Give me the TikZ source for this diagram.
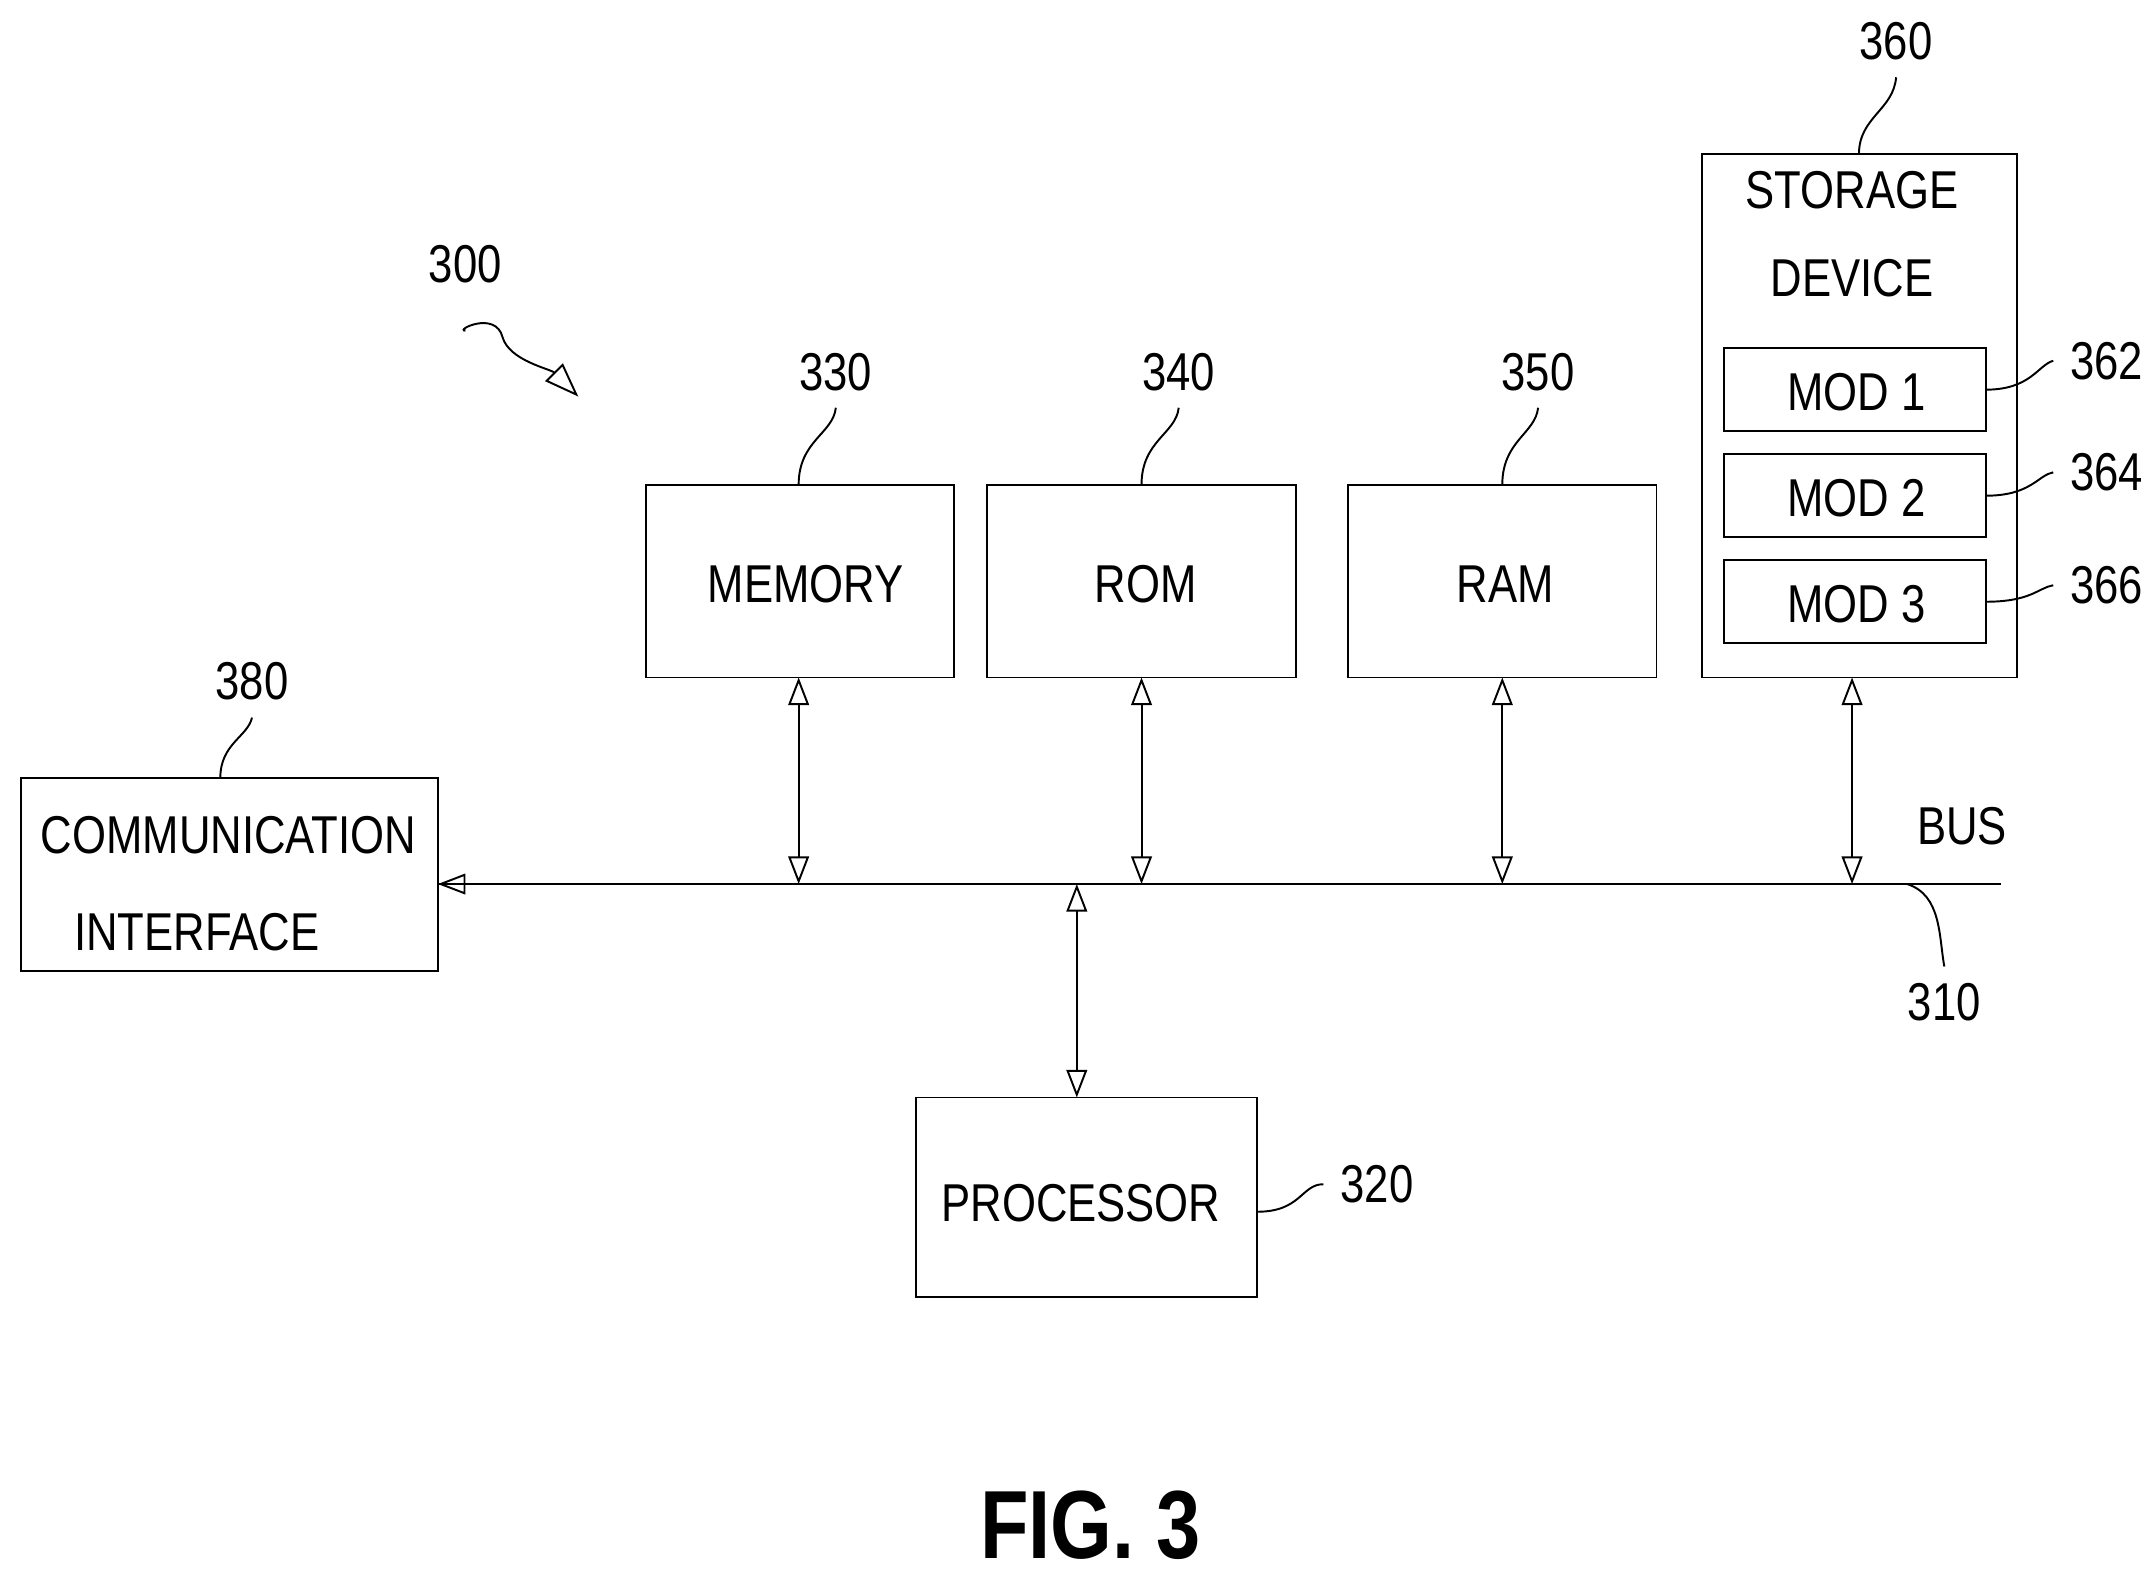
\documentclass[tikz,border=0pt]{standalone}
\usepackage{fontspec}
\setmainfont{Liberation Sans}[FakeStretch=0.82]
\usetikzlibrary{arrows.meta,positioning}
\begin{document}
\begin{tikzpicture}[x=0.01cm, y=-0.01cm,
    every node/.style={font=\fontsize{11}{14}\selectfont},
    opentip/.style={{Triangle[open, length=0.2cm, width=0.15cm]}-{Triangle[open, length=0.2cm, width=0.15cm]}},
    lead/.style={thin}]
    \useasboundingbox (0,0) rectangle (1565,1142);

    % Boxes
    \draw[thin] (469,352) rectangle (693,492);
    \node (mem) at (585,424) {MEMORY};
    \draw[thin] (717,352) rectangle (941,492);
    \node (rom) at (832,424) {ROM};
    \draw[thin] (979,352) rectangle (1203,492);
    \node (ram) at (1093,424) {RAM};
    \draw[thin] (1236,112) rectangle (1465,492);
    \node[align=center] (sto) at (1345,170) {STORAGE\\[4pt]DEVICE};
    \foreach \y/\n in {253/1, 330/2, 407/3} {
        \draw[thin] (1252,\y) rectangle (1442,\y+60);
        \node (mod\n) at (1348,\y+32) {MOD \n};
    }
    \draw[thin] (15,565) rectangle (318,705);
    \node[align=center] (com) at (166,642) {COMMUNICATION\\[6pt]\hspace*{-1.2em}INTERFACE};
    \draw[thin] (665,797) rectangle (913,942);
    \node (pro) at (785,874) {PROCESSOR};

    % Bus
    \coordinate (busL) at (318,642);
    \coordinate (busR) at (1453,642);
    \draw[thin] (busL) -- (busR);
    \node (bus) at (1425,600) {BUS};
    \draw[thin, -{Triangle[open, length=0.2cm, width=0.15cm]}] (540,642) -- (busL);

    % Bus connections
    \foreach \x/\t in {580/492, 829/492, 1091/492, 1345/492} {
        \draw[thin, opentip] (\x,\t) -- (\x,642);
    }
    \draw[thin, opentip] (782,642) -- (782,797);

    % Reference numerals
    \node (n300) at (338,192) {300};
    \node (n330) at (607,270) {330};
    \node (n340) at (856,270) {340};
    \node (n350) at (1117,270) {350};
    \node (n360) at (1377,30) {360};
    \node (n362) at (1530,262) {362};
    \node (n364) at (1530,343) {364};
    \node (n366) at (1530,425) {366};
    \node (n380) at (183,495) {380};
    \node (n320) at (1000,860) {320};
    \node (n310) at (1412,728) {310};

    % Leaders
    \draw[lead] (580,352) .. controls (580,320) and (605,315) .. (n330.south);
    \draw[lead] (829,352) .. controls (829,320) and (854,315) .. (n340.south);
    \draw[lead] (1091,352) .. controls (1091,320) and (1115,315) .. (n350.south);
    \draw[lead] (1350,112) .. controls (1350,85) and (1375,80) .. (n360.south);
    \draw[lead] (160,565) .. controls (160,540) and (180,535) .. (n380.south);
    \draw[lead] (1442,283) .. controls (1475,283) and (1480,265) .. (n362.west);
    \draw[lead] (1442,360) .. controls (1475,360) and (1480,345) .. (n364.west);
    \draw[lead] (1442,437) .. controls (1475,437) and (1480,427) .. (n366.west);
    \draw[lead] (913,880) .. controls (945,880) and (945,860) .. (n320.west);
    \draw[lead] (1385,642) .. controls (1410,650) and (1408,680) .. (n310.north);
    \draw[lead, -{Triangle[open, length=0.25cm, width=0.18cm]}] (n300.south) ++(0,22)
        .. controls (330,240) and (360,225) .. (365,245)
        .. controls (370,262) and (400,268) .. (420,288);

    \node[font=\fontsize{20}{24}\selectfont\bfseries] (fig) at (792,1108) {FIG. 3};
\end{tikzpicture}
\end{document}
